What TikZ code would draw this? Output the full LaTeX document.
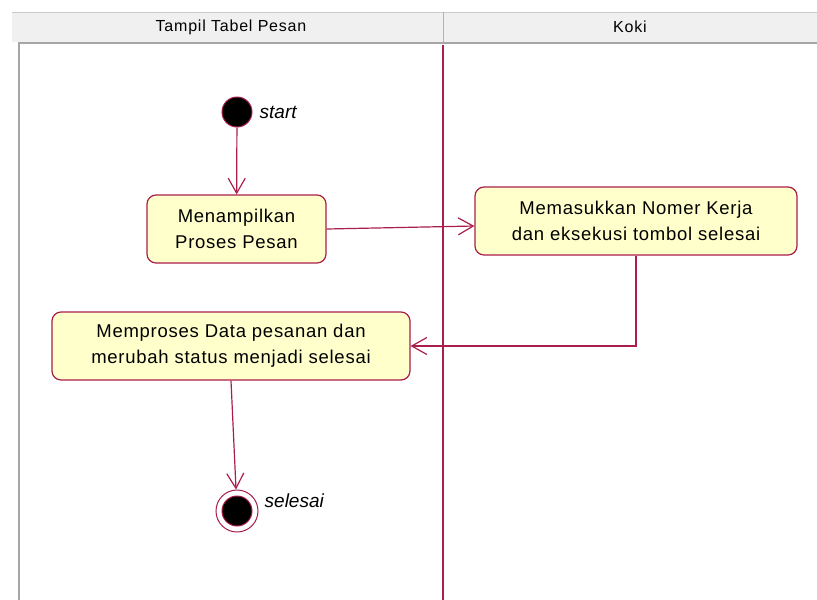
\documentclass[tikz,border=0pt]{standalone}
\usepackage{fontspec}
\setmainfont{Liberation Sans}
\usetikzlibrary{arrows.meta}
\usetikzlibrary{calc}
\definecolor{lanered}{RGB}{170,30,75}
\definecolor{actfill}{RGB}{255,255,204}
\definecolor{headfill}{RGB}{240,240,240}
\tikzset{>={Straight Barb[length=15pt,width=17pt]}}
\tikzset{
  activity/.style={draw=lanered,fill=actfill,rounded corners=9pt,line width=1.2pt,
    align=center,minimum height=68pt,font=\fontsize{18.5}{26}\selectfont\addfontfeature{LetterSpace=4}},
  initial/.style={circle,draw=lanered,fill=black,line width=1pt,minimum size=30pt,inner sep=0pt},
  finalring/.style={circle,draw=lanered,fill=white,line width=1pt,minimum size=42pt,inner sep=0pt},
  finaldot/.style={circle,draw=lanered,fill=black,line width=1pt,minimum size=30pt,inner sep=0pt},
  statelabel/.style={font=\fontsize{19}{22}\selectfont\itshape,inner sep=2pt},
  flow/.style={->,draw=lanered,line width=1.2pt},
  lanehead/.style={font=\fontsize{16}{17}\selectfont\addfontfeature{LetterSpace=5}}
}

\begin{document}
\begin{tikzpicture}[x=1pt,y=-1pt]
    \useasboundingbox (0,0) rectangle (817,600);
    \fill[white] (0,0) rectangle (817,600);
    % swimlane header
    \fill[headfill] (12,12) rectangle (817,42);
    \draw[gray!40] (12,12) -- (817,12);
    \draw[gray!60,line width=1pt] (443,12) -- (443,42);
    \draw[gray!70,line width=2.5pt] (19,43) -- (817,43);
    \draw[gray!70,line width=2.5pt] (19,42) -- (19,600);
    \node[lanehead] (laneone) at (231,27) {Tampil Tabel Pesan};
    \node[lanehead] (lanetwo) at (630,27) {Koki};
    \draw[lanered,line width=1.2pt] (443,45) -- (443,600);

    \node[initial] (start) at (237,112) {};
    \node[statelabel,anchor=west,xshift=5pt] (startlbl) at (start.east) {start};
    \node[activity,minimum width=179pt] (tampil) at (236.5,229) {Menampilkan\\Proses Pesan};
    \node[activity,minimum width=322pt] (masuk) at (636,221) {Memasukkan Nomer Kerja\\dan eksekusi tombol selesai};
    \node[activity,minimum width=358pt] (proses) at (231,346) {Memproses Data pesanan dan\\merubah status menjadi selesai};
    \node[finalring] (selesai) at (237,511) {};
    \node[finaldot] (selesaidot) at (selesai) {};
    \node[statelabel,anchor=west] (selesailbl) at ($(selesai.east)+(4,-10)$) {selesai};

    \draw[flow] (start) -- (tampil);
    \draw[flow] (tampil.east) -- ($(masuk.west)+(0,5)$);
    \draw[flow] (masuk.south) |- (proses.east);
    \draw[flow] (proses.south) -- (selesai);
\end{tikzpicture}
\end{document}
